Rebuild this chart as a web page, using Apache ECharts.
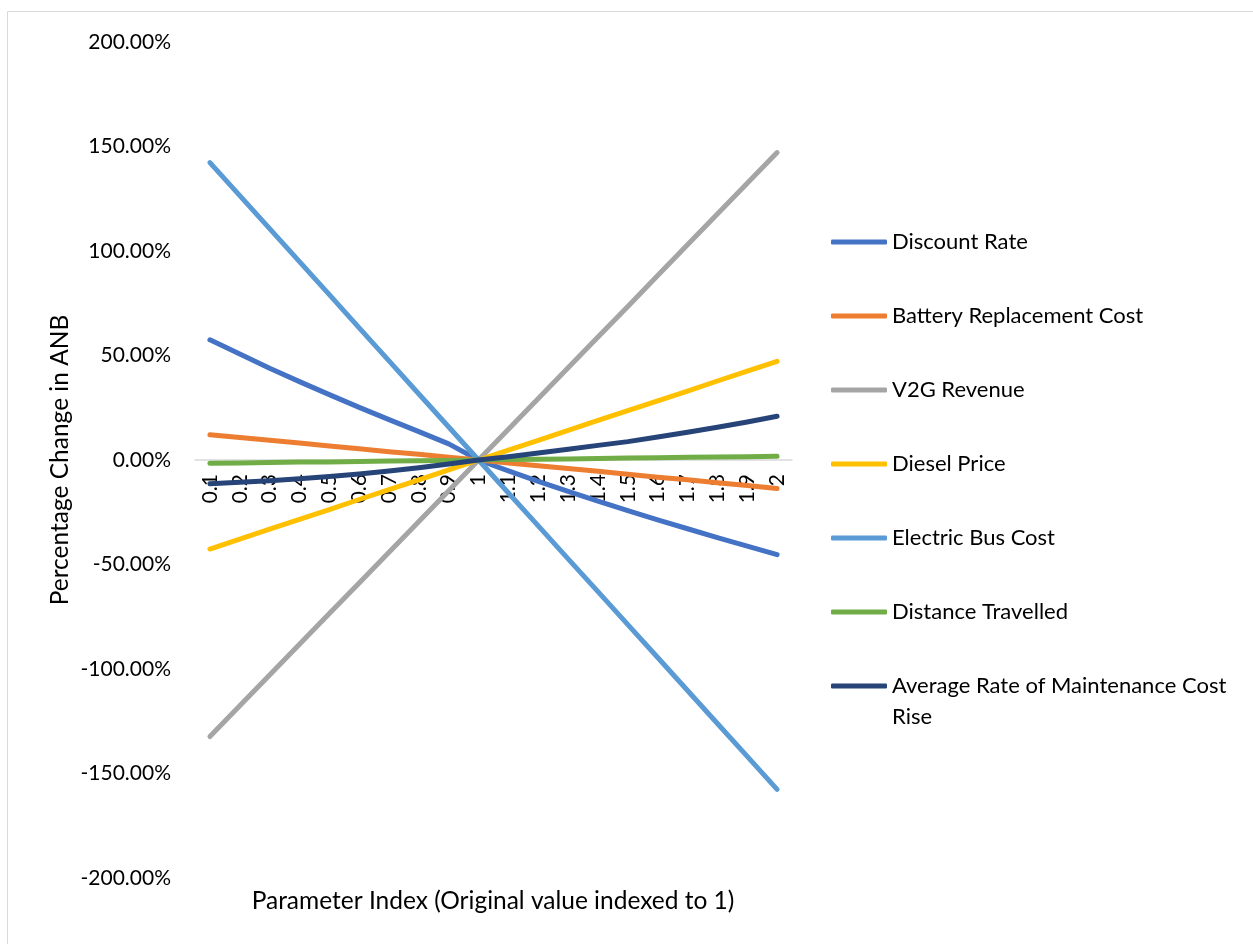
<!DOCTYPE html>
<html>
<head>
<meta charset="utf-8">
<script src="https://cdn.jsdelivr.net/npm/echarts@6/dist/echarts.min.js"></script>
<style>
  html, body { margin: 0; padding: 0; background: #fff; }
  #chart { width: 1253px; height: 944px; }
</style>
</head>
<body>
<div id="chart"></div>
<script>
// Parameter index values along the x axis
const categories = ['0.1','0.2','0.3','0.4','0.5','0.6','0.7','0.8','0.9','1',
                    '1.1','1.2','1.3','1.4','1.5','1.6','1.7','1.8','1.9','2'];

// Percentage change in ANB for each parameter (in %)
const discountRate   = [57.5, 50.7, 43.9, 37.5, 31.3, 25.2, 19.3, 13.6, 7.7, 0,
                        -5.2, -10.2, -15.0, -19.7, -24.2, -28.6, -32.9, -37.1, -41.2, -45.3];
const batteryCost    = [12.1, 10.8, 9.4, 8.1, 6.7, 5.4, 4.0, 2.7, 1.3, 0,
                        -1.4, -2.7, -4.1, -5.4, -6.8, -8.2, -9.5, -10.9, -12.2, -13.6];
const v2gRevenue     = [-132.3, -117.6, -102.9, -88.2, -73.5, -58.8, -44.1, -29.4, -14.7, 0,
                        14.7, 29.4, 44.1, 58.8, 73.5, 88.3, 103.0, 117.7, 132.4, 147.1];
const dieselPrice    = [-42.6, -37.9, -33.1, -28.4, -23.7, -18.9, -14.2, -9.5, -4.7, 0,
                        4.7, 9.4, 14.2, 18.9, 23.6, 28.3, 33.0, 37.8, 42.5, 47.2];
const electricBus    = [142.3, 126.5, 110.7, 94.9, 79.1, 63.2, 47.4, 31.6, 15.8, 0,
                        -15.8, -31.5, -47.3, -63.0, -78.8, -94.5, -110.3, -126.1, -141.8, -157.6];
const distance       = [-1.6, -1.4, -1.2, -1.0, -0.9, -0.7, -0.5, -0.3, -0.2, 0,
                        0.2, 0.4, 0.5, 0.7, 0.9, 1.1, 1.3, 1.4, 1.6, 1.8];
const maintenance    = [-11.4, -10.7, -9.9, -9.0, -7.9, -6.7, -5.3, -3.7, -1.9, 0,
                        1.6, 3.3, 5.1, 7.0, 8.8, 11.0, 13.3, 15.7, 18.2, 20.9];

const seriesNames = ['Discount Rate', 'Battery Replacement Cost', 'V2G Revenue', 'Diesel Price',
                     'Electric Bus Cost', 'Distance Travelled', 'Average Rate of Maintenance Cost Rise'];
const seriesData  = [discountRate, batteryCost, v2gRevenue, dieselPrice, electricBus, distance, maintenance];
const colors = ['#4472C4', '#ED7D31', '#A5A5A5', '#FFC000', '#5B9BD5', '#70AD47', '#264478'];

const FONT = 'Lato';

// Plot area geometry: y range is symmetric, so the zero line sits mid-height
const GRID_TOP = 42, GRID_BOTTOM = 66, CHART_H = 944;
const plotH = CHART_H - GRID_TOP - GRID_BOTTOM;
const zeroOffset = -plotH / 2;   // lift the category axis from the bottom edge to y = 0

const chart = echarts.init(document.getElementById('chart'), null, { renderer: 'canvas' });

chart.setOption({
  animation: false,
  backgroundColor: '#ffffff',
  color: colors,
  grid: { left: 195, right: 461, top: GRID_TOP, bottom: GRID_BOTTOM, containLabel: false },
  xAxis: {
    type: 'category',
    data: categories,
    boundaryGap: true,
    position: 'bottom',
    offset: zeroOffset,
    axisLine: { show: true, onZero: false, lineStyle: { color: '#D9D9D9', width: 1.5 } },
    axisTick: { show: false },
    axisLabel: { rotate: 90, margin: 14, color: '#000', fontFamily: FONT, fontSize: 21, interval: 0 },
    splitLine: { show: false }
  },
  yAxis: {
    type: 'value',
    min: -200, max: 200, interval: 50,
    axisLine: { show: false },
    axisTick: { show: false },
    splitLine: { show: false },
    axisLabel: {
      margin: 24, color: '#000', fontFamily: FONT, fontSize: 21,
      formatter: v => v.toFixed(2) + '%'
    }
  },
  legend: {
    orient: 'vertical',
    left: 831, top: 231,
    padding: 0,
    itemWidth: 56, itemHeight: 5,
    itemGap: 52,
    icon: 'roundRect',
    textStyle: { color: '#000', fontFamily: FONT, fontSize: 22, lineHeight: 22 },
    formatter: name => name === 'Average Rate of Maintenance Cost Rise' ? 'Average Rate of Maintenance Cost' : name,
    data: seriesNames
  },
  graphic: [
    {
      type: 'rect', silent: true, z: -1,
      shape: { x: 7.5, y: 11.5, width: 1300, height: 1000 },
      style: { fill: 'none', stroke: '#D9D9D9', lineWidth: 1 }
    },
    {
      type: 'text', left: 892, top: 706,
      style: { text: 'Rise', fill: '#000', font: '22px ' + FONT }
    },
    {
      type: 'text', x: 60, y: 460, rotation: Math.PI / 2,
      style: { text: 'Percentage Change in ANB', fill: '#000', font: '24.5px ' + FONT,
               align: 'center', verticalAlign: 'middle' }
    },
    {
      type: 'text', x: 493, y: 901,
      style: { text: 'Parameter Index (Original value indexed to 1)', fill: '#000', font: '24.5px ' + FONT,
               align: 'center', verticalAlign: 'middle' }
    }
  ],
  series: seriesNames.map((name, i) => ({
    name: name,
    type: 'line',
    data: seriesData[i],
    showSymbol: false,
    symbol: 'none',
    lineStyle: { width: 5, cap: 'round', join: 'round', color: colors[i] },
    itemStyle: { color: colors[i] },
    z: 2 + i
  }))
});
</script>
</body>
</html>
